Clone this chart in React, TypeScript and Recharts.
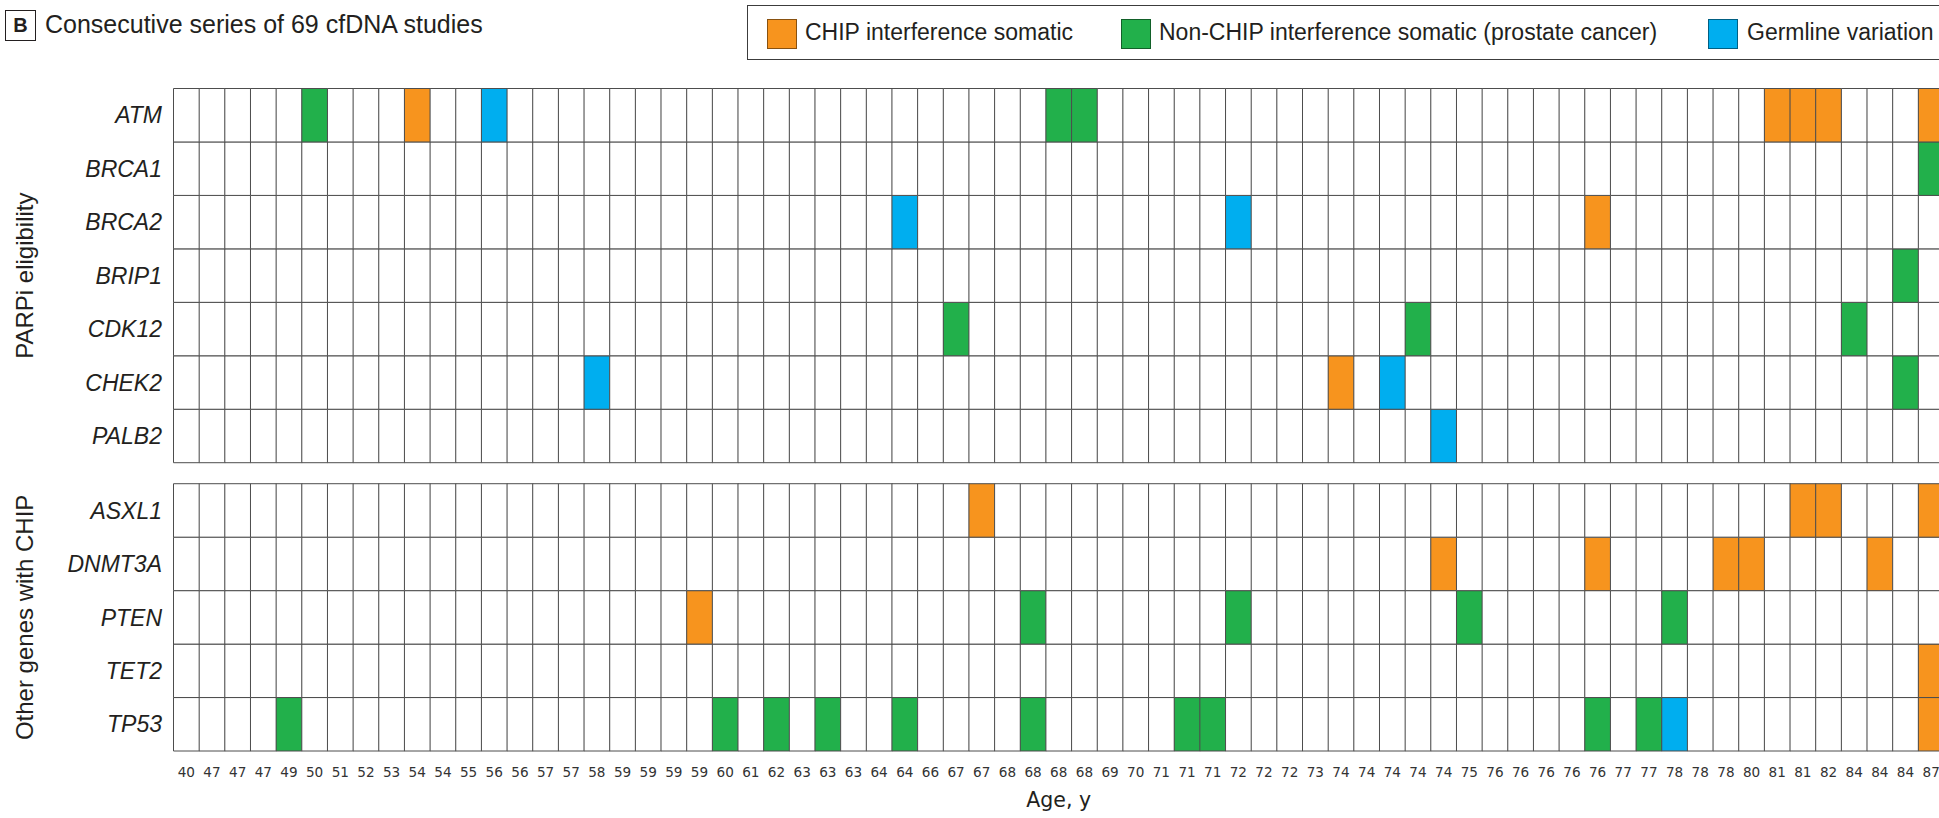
import React from 'react';
import { BarChart, Bar, XAxis, YAxis, Cell, Legend, ReferenceArea } from 'recharts';

// Age of each consecutive cfDNA study (x-axis tick labels), in order
const studyAges = [
  40, 47, 47, 47, 49, 50, 51, 52, 53, 54, 54, 55, 56, 56, 57, 57, 58, 59, 59, 59,
  59, 60, 61, 62, 63, 63, 63, 64, 64, 66, 67, 67, 68, 68, 68, 68, 69, 70, 71, 71,
  71, 72, 72, 72, 73, 74, 74, 74, 74, 74, 75, 76, 76, 76, 76, 76, 77, 77, 78, 78,
  78, 80, 81, 81, 82, 84, 84, 84, 87,
];

const parpGenes = ['ATM', 'BRCA1', 'BRCA2', 'BRIP1', 'CDK12', 'CHEK2', 'PALB2'];
const chipGenes = ['ASXL1', 'DNMT3A', 'PTEN', 'TET2', 'TP53'];

// [gene, study number (1-based)]
const chipSomatic: [string, number][] = [
  ['ATM', 10], ['ATM', 63], ['ATM', 64], ['ATM', 65], ['ATM', 69],
  ['BRCA2', 56],
  ['CHEK2', 46],
  ['ASXL1', 32], ['ASXL1', 64], ['ASXL1', 65], ['ASXL1', 69],
  ['DNMT3A', 50], ['DNMT3A', 56], ['DNMT3A', 61], ['DNMT3A', 62], ['DNMT3A', 67],
  ['PTEN', 21],
  ['TET2', 69],
  ['TP53', 69],
];

const nonChipSomatic: [string, number][] = [
  ['ATM', 6], ['ATM', 35], ['ATM', 36],
  ['BRCA1', 69],
  ['BRIP1', 68],
  ['CDK12', 31], ['CDK12', 49], ['CDK12', 66],
  ['CHEK2', 68],
  ['PTEN', 34], ['PTEN', 42], ['PTEN', 51], ['PTEN', 59],
  ['TP53', 5], ['TP53', 22], ['TP53', 24], ['TP53', 26], ['TP53', 29], ['TP53', 34],
  ['TP53', 40], ['TP53', 41], ['TP53', 56], ['TP53', 58],
];

const germline: [string, number][] = [
  ['ATM', 13],
  ['BRCA2', 29], ['BRCA2', 42],
  ['CHEK2', 17], ['CHEK2', 48],
  ['PALB2', 50],
  ['TP53', 59],
];

const legendItems = [
  { label: 'CHIP interference somatic', color: '#F7941E', left: 19, textLeft: 57 },
  { label: 'Non-CHIP interference somatic (prostate cancer)', color: '#22B04B', left: 373, textLeft: 411 },
  { label: 'Germline variation', color: '#00AEEF', left: 960, textLeft: 999 },
];

const PANEL_GAP = 0.393;

const colorMap = new Map<string, string>();
chipSomatic.forEach(([g, s]) => colorMap.set(`${g}-${s}`, legendItems[0].color));
nonChipSomatic.forEach(([g, s]) => colorMap.set(`${g}-${s}`, legendItems[1].color));
germline.forEach(([g, s]) => colorMap.set(`${g}-${s}`, legendItems[2].color));

const chipBottomUp = [...chipGenes].reverse();
const parpBottomUp = [...parpGenes].reverse();
const stackOrder = [...chipBottomUp, 'gap', ...parpBottomUp];

const geneCenters: { gene: string; v: number }[] = [
  ...chipBottomUp.map((g, k) => ({ gene: g, v: k + 0.5 })),
  ...parpBottomUp.map((g, k) => ({ gene: g, v: chipGenes.length + PANEL_GAP + k + 0.5 })),
];
const TOTAL = chipGenes.length + PANEL_GAP + parpGenes.length;

const data = studyAges.map((age, i) => {
  const row: Record<string, number> = { study: i + 1, age, gap: PANEL_GAP };
  [...parpGenes, ...chipGenes].forEach((g) => (row[g] = 1));
  return row;
});

const TEXT = '#231f20';
const SANS = '"Liberation Sans", Arial, sans-serif';

const LegendBox = () => (
  <div
    style={{
      position: 'relative',
      width: 1250,
      height: 53,
      border: '1px solid #3c3c3c',
      background: '#fff',
      fontFamily: SANS,
      fontSize: 23,
      color: TEXT,
    }}
  >
    {legendItems.map((it) => (
      <React.Fragment key={it.label}>
        <div
          style={{
            position: 'absolute',
            left: it.left,
            top: 13,
            width: 28,
            height: 28,
            background: it.color,
            border: '1px solid rgba(0,0,0,0.45)',
          }}
        />
        <div
          style={{
            position: 'absolute',
            left: it.textLeft,
            top: 0,
            height: 53,
            display: 'flex',
            alignItems: 'center',
            lineHeight: 1,
            whiteSpace: 'nowrap',
          }}
        >
          {it.label}
        </div>
      </React.Fragment>
    ))}
  </div>
);

const SideLabel = (text: string) => (props: any) => {
  const vb = props.viewBox || {};
  const cx = vb.x - 148.5;
  const cy = vb.y + vb.height / 2;
  return (
    <text
      x={cx}
      y={cy}
      transform={`rotate(-90, ${cx}, ${cy})`}
      textAnchor="middle"
      dominantBaseline="central"
      fontFamily={SANS}
      fontSize={24}
      fill={TEXT}
    >
      {text}
    </text>
  );
};

export default function App() {
  return (
    <div
      style={{
        position: 'fixed',
        left: 0,
        top: 0,
        width: 1939,
        height: 818,
        overflow: 'hidden',
        background: '#fff',
      }}
    >
      <div
        style={{
          position: 'absolute',
          left: 5,
          top: 10,
          width: 31,
          height: 31,
          border: '1.5px solid #231f20',
          display: 'flex',
          alignItems: 'center',
          justifyContent: 'center',
          fontFamily: SANS,
          fontWeight: 'bold',
          fontSize: 20,
          color: TEXT,
          boxSizing: 'border-box',
          zIndex: 2,
        }}
      >
        B
      </div>
      <div
        style={{
          position: 'absolute',
          left: 45,
          top: 12,
          fontFamily: SANS,
          fontSize: 25,
          lineHeight: 1,
          color: TEXT,
          whiteSpace: 'nowrap',
          zIndex: 2,
        }}
      >
        Consecutive series of 69 cfDNA studies
      </div>
      <BarChart
        width={1944}
        height={818}
        data={data}
        margin={{ top: 88.5, right: 0, bottom: 7, left: 0 }}
        barCategoryGap={0}
        barGap={0}
      >
        <XAxis
          dataKey="study"
          type="category"
          interval={0}
          tickLine={false}
          axisLine={false}
          tickSize={0}
          tickMargin={16}
          height={60}
          tickFormatter={(v: any) => String(studyAges[Number(v) - 1])}
          tick={{ fontFamily: '"DejaVu Sans", sans-serif', fontSize: 13.6, fill: '#333333' }}
          label={{
            value: 'Age, y',
            position: 'insideBottom',
            offset: 4,
            style: { fontFamily: '"DejaVu Sans", sans-serif', fontSize: 20.5, fill: TEXT },
          }}
        />
        <YAxis
          type="number"
          domain={[0, TOTAL]}
          ticks={geneCenters.map((c) => c.v)}
          interval={0}
          width={173.5}
          tickLine={false}
          axisLine={false}
          tickSize={0}
          tickMargin={11.5}
          tickFormatter={(v: any) => {
            const f = geneCenters.find((c) => Math.abs(c.v - Number(v)) < 1e-6);
            return f ? f.gene : '';
          }}
          tick={{ fontFamily: SANS, fontSize: 23, fontStyle: 'italic', fill: TEXT }}
        />
        <Legend
          layout="vertical"
          align="center"
          verticalAlign="middle"
          content={() => <LegendBox />}
          wrapperStyle={{ left: 747, top: 5, width: 1250, height: 55 }}
        />
        {stackOrder.map((key) =>
          key === 'gap' ? (
            <Bar
              key="gap"
              dataKey="gap"
              stackId="s"
              fill="transparent"
              stroke="none"
              isAnimationActive={false}
              legendType="none"
            />
          ) : (
            <Bar
              key={key}
              dataKey={key}
              stackId="s"
              stroke="#4d4d4d"
              strokeWidth={1}
              isAnimationActive={false}
            >
              {data.map((d) => (
                <Cell key={d.study} fill={colorMap.get(`${key}-${d.study}`) ?? '#ffffff'} />
              ))}
            </Bar>
          )
        )}
        <ReferenceArea
          y1={chipGenes.length + PANEL_GAP}
          y2={TOTAL}
          fillOpacity={0}
          strokeOpacity={0}
          ifOverflow="visible"
          label={SideLabel('PARPi eligibility')}
        />
        <ReferenceArea
          y1={0}
          y2={chipGenes.length}
          fillOpacity={0}
          strokeOpacity={0}
          ifOverflow="visible"
          label={SideLabel('Other genes with CHIP')}
        />
      </BarChart>
    </div>
  );
}
